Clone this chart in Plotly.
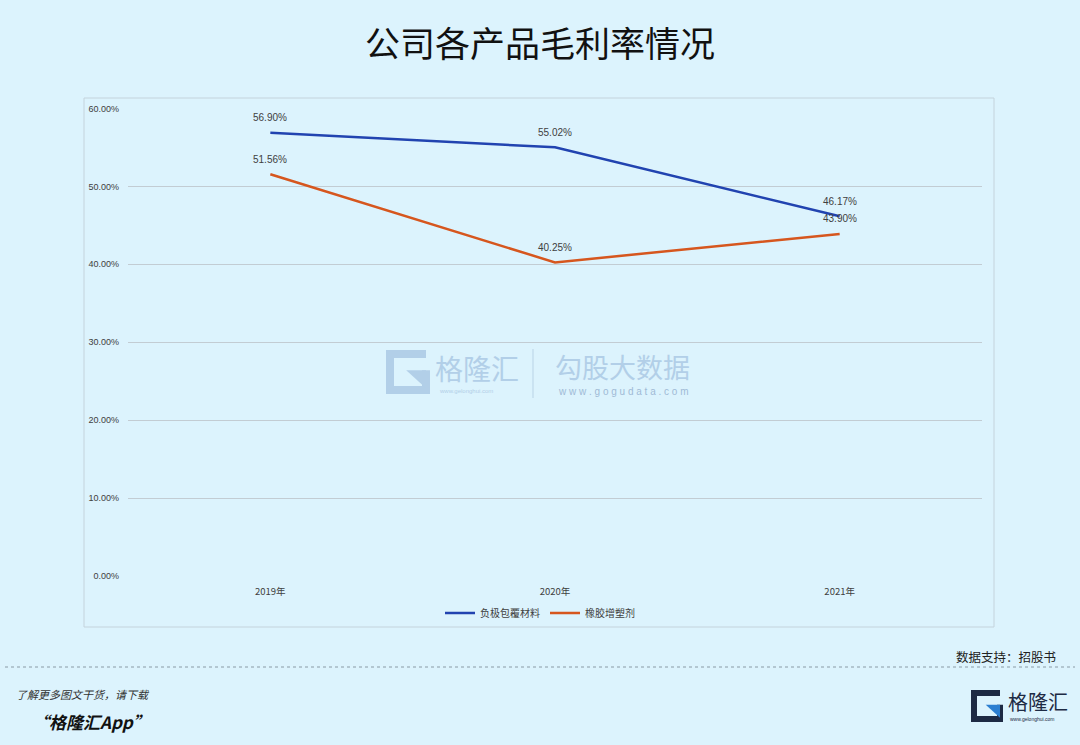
import plotly.graph_objects as go

categories = ["2019年", "2020年", "2021年"]
series_names = ["负极包覆材料", "橡胶增塑剂"]
anode_coating = [56.90, 55.02, 46.17]
rubber_plasticizer = [51.56, 40.25, 43.90]
y_ticks = [0, 10, 20, 30, 40, 50, 60]
y_tick_labels = ["0.00%", "10.00%", "20.00%", "30.00%", "40.00%", "50.00%", "60.00%"]

W, H = 1080, 745
BG = "#dcf3fd"
BLUE = "#2143b0"
ORANGE = "#d6561e"
WM = "#b2cfe8"

def px(x):
    return x / W

def py(y):
    return 1 - y / H

fig = go.Figure()
annotations = []
for name, vals, col in [(series_names[0], anode_coating, BLUE),
                        (series_names[1], rubber_plasticizer, ORANGE)]:
    fig.add_trace(go.Scatter(
        x=categories, y=vals, name=name, mode="lines",
        line=dict(color=col, width=2.5),
        hoverinfo="x+y",
    ))
    for c, v in zip(categories, vals):
        annotations.append(dict(x=c, y=v, text=f"{v:.2f}%", showarrow=False,
                                yshift=15, xref="x", yref="y",
                                font=dict(size=10, color="#404040",
                                          family="Liberation Sans, Arial")))

def g_logo(x0, y0, s, col, accent, lw):
    out = []
    x1, y1 = x0 + s, y0 + s
    path = (f"M {px(x1)},{py(y0)} L {px(x0)},{py(y0)} L {px(x0)},{py(y1)} "
            f"L {px(x1)},{py(y1)} L {px(x1)},{py(y0 + s*0.45)}")
    out.append(dict(type="path", xref="paper", yref="paper", path=path,
                    line=dict(color=col, width=lw)))
    tri = (f"M {px(x0 + s*0.45)},{py(y0 + s*0.45)} L {px(x1)},{py(y0 + s*0.45)} "
           f"L {px(x1)},{py(y1 - s*0.05)} Z")
    out.append(dict(type="path", xref="paper", yref="paper", path=tri,
                    line=dict(width=0), fillcolor=accent))
    return out

shapes = [
    dict(type="rect", xref="paper", yref="paper", x0=px(84), x1=px(994),
         y0=py(627), y1=py(98), line=dict(color="#c4d3dc", width=1),
         fillcolor=BG, layer="below"),
    dict(type="line", xref="paper", yref="paper", x0=px(5), x1=px(1075),
         y0=py(667), y1=py(667), line=dict(color="#8a9aa5", width=1, dash="dot")),
    dict(type="line", xref="paper", yref="paper", x0=px(533), x1=px(533),
         y0=py(398), y1=py(349), line=dict(color="#b9d3e6", width=1)),
]
shapes += g_logo(390, 354, 36, WM, WM, 8)
shapes += g_logo(974, 693, 26, "#1d2a44", "#2c7fd1", 6)

annotations += [
    dict(text="公司各产品毛利率情况", x=0.5, y=py(41), xref="paper", yref="paper",
         showarrow=False, font=dict(size=35, color="#111111",
                                    family="Noto Sans CJK SC"),
         xanchor="center", yanchor="middle"),
    dict(text="数据支持：招股书", x=px(1058), y=py(656), xref="paper", yref="paper",
         showarrow=False, xanchor="right", yanchor="middle",
         font=dict(size=12.5, color="#222222", family="Noto Sans CJK SC")),
    dict(text="<i>了解更多图文干货，请下载</i>", x=px(14), y=py(694), xref="paper",
         yref="paper", showarrow=False, xanchor="left", yanchor="middle",
         font=dict(size=11, color="#333333", family="Noto Sans CJK SC")),
    dict(text="<b><i>“格隆汇App”</i></b>", x=px(30), y=py(721), xref="paper",
         yref="paper", showarrow=False, xanchor="left", yanchor="middle",
         font=dict(size=17, color="#111111", family="Noto Sans CJK SC")),
    dict(text="格隆汇", x=px(1006), y=py(701), xref="paper", yref="paper",
         showarrow=False, xanchor="left", yanchor="middle",
         font=dict(size=20, color="#1d2a44", family="Noto Sans CJK SC")),
    dict(text="www.gelonghui.com", x=px(1008), y=py(719), xref="paper", yref="paper",
         showarrow=False, xanchor="left", yanchor="middle",
         font=dict(size=5, color="#1d2a44", family="Liberation Sans")),
    dict(text="格隆汇", x=px(433), y=py(368), xref="paper", yref="paper",
         showarrow=False, xanchor="left", yanchor="middle",
         font=dict(size=28, color=WM, family="Noto Sans CJK SC")),
    dict(text="www.gelonghui.com", x=px(437), y=py(391), xref="paper", yref="paper",
         showarrow=False, xanchor="left", yanchor="middle",
         font=dict(size=6, color=WM, family="Liberation Sans")),
    dict(text="勾股大数据", x=px(553), y=py(366), xref="paper", yref="paper",
         showarrow=False, xanchor="left", yanchor="middle",
         font=dict(size=27, color=WM, family="Noto Sans CJK SC")),
    dict(text="w w w . g o g u d a t a . c o m", x=px(556), y=py(391), xref="paper",
         yref="paper", showarrow=False, xanchor="left", yanchor="middle",
         font=dict(size=10, color="#9fbad6", family="Liberation Sans")),
]

fig.update_layout(
    width=W, height=H, autosize=False,
    paper_bgcolor=BG, plot_bgcolor="rgba(0,0,0,0)",
    margin=dict(l=0, r=0, t=0, b=0, pad=0),
    showlegend=True,
    legend=dict(orientation="h", x=0.5, xanchor="center", y=py(613),
                yanchor="middle", bgcolor="rgba(0,0,0,0)",
                font=dict(size=10, color="#404040", family="Noto Sans CJK SC")),
    xaxis=dict(domain=[px(128), px(982)], range=[-0.5, 2.5], showgrid=False,
               zeroline=False, showline=False, ticks="", automargin=False,
               ticklabelstandoff=8,
               tickfont=dict(size=9.5, color="#404040",
                             family="Noto Sans CJK SC, Liberation Sans")),
    yaxis=dict(domain=[py(576), py(108.5)], range=[0, 60], tickvals=y_ticks,
               ticktext=y_tick_labels, showgrid=True, gridcolor="#c2ccd3",
               gridwidth=1.2, zeroline=False, showline=False, ticks="",
               automargin=False, ticklabelstandoff=8,
               tickfont=dict(size=9, color="#404040", family="Liberation Sans")),
    shapes=shapes,
    annotations=annotations,
)

css = ("var s=document.createElement('style');"
       "s.textContent='html,body{margin:0;padding:0;overflow:hidden;height:745px;background:" + BG + ";}';"
       "document.head.appendChild(s);")
fig.write_html("out.html",
               config={"displayModeBar": False, "responsive": False},
               post_script=css)
